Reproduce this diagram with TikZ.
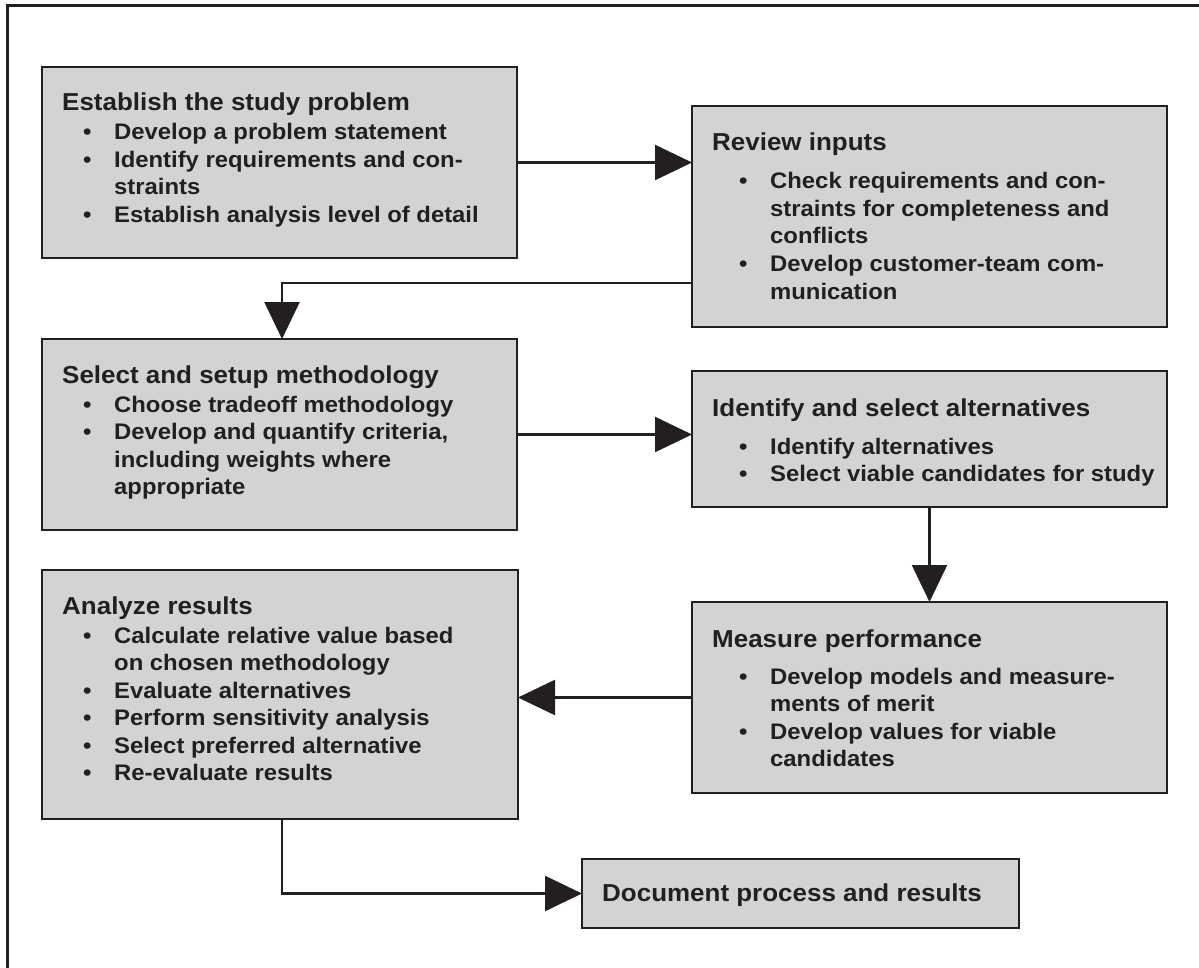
\documentclass[tikz,border=0pt]{standalone}
\usepackage{fontspec}
\setmainfont{Liberation Sans}[FakeStretch=1.06]
\usetikzlibrary{arrows.meta,calc}
\definecolor{ink}{HTML}{231F20}
\definecolor{boxfill}{HTML}{D1D3D4}
\newcommand\bul{\makebox[31pt][l]{\textbullet}}
\begin{document}
\begin{tikzpicture}[x=1pt,y=-1pt,
  box/.style={draw=ink, line width=2.8pt, fill=boxfill, anchor=north west, inner sep=0pt, outer sep=0pt},
  arr/.style={draw=ink, line width=2.4pt, -{Triangle[width=35pt,length=37pt]}},
  ttl/.style={anchor=base west, inner sep=0pt, text=ink, font=\bfseries\fontsize{24.5}{28}\selectfont},
  ln/.style={anchor=base west, inner sep=0pt, text=ink, font=\bfseries\fontsize{22.5}{28}\selectfont},
  frame/.style={draw=ink, line width=3pt}]
\useasboundingbox (0,0) rectangle (1199,968);
\coordinate (f1) at (7,968);
\coordinate (f2) at (7,6);
\coordinate (f3) at (1199,6);
\draw[frame] (f1) -- (f2) -- (f3);

% boxes
\node[box, minimum width=475pt, minimum height=191pt] (b1) at (42,67) {};
\node[box, minimum width=475pt, minimum height=221pt] (b2) at (692,106) {};
\node[box, minimum width=475pt, minimum height=191pt] (b3) at (42,339) {};
\node[box, minimum width=475pt, minimum height=136pt] (b4) at (692,371) {};
\node[box, minimum width=475pt, minimum height=191pt] (b5) at (692,602) {};
\node[box, minimum width=476pt, minimum height=249pt] (b6) at (42,570) {};
\node[box, minimum width=437pt, minimum height=69pt] (b7) at (582,859) {};

% box 1
\node[ttl] (t1) at (62,111) {Establish the study problem};
\node[ln] (l1a) at (83,140) {\bul Develop a problem statement};
\node[ln] (l1b) at (83,167.5) {\bul Identify requirements and con-};
\node[ln] (l1c) at (114,195) {straints};
\node[ln] (l1d) at (83,222.5) {\bul Establish analysis level of detail};

% box 2
\node[ttl] (t2) at (712,151) {Review inputs};
\node[ln] (l2a) at (739,189) {\bul Check requirements and con-};
\node[ln] (l2b) at (770,216.5) {straints for completeness and};
\node[ln] (l2c) at (770,244) {conflicts};
\node[ln] (l2d) at (739,271.5) {\bul Develop customer-team com-};
\node[ln] (l2e) at (770,299) {munication};

% box 3
\node[ttl] (t3) at (62,383) {Select and setup methodology};
\node[ln] (l3a) at (83,412) {\bul Choose tradeoff methodology};
\node[ln] (l3b) at (83,439.5) {\bul Develop and quantify criteria,};
\node[ln] (l3c) at (114,467) {including weights where};
\node[ln] (l3d) at (114,494.5) {appropriate};

% box 4
\node[ttl] (t4) at (712,416) {Identify and select alternatives};
\node[ln] (l4a) at (739,454) {\bul Identify alternatives};
\node[ln] (l4b) at (739,481.5) {\bul Select viable candidates for study};

% box 5
\node[ttl] (t5) at (712,647) {Measure performance};
\node[ln] (l5a) at (739,684) {\bul Develop models and measure-};
\node[ln] (l5b) at (770,711.5) {ments of merit};
\node[ln] (l5c) at (739,739) {\bul Develop values for viable};
\node[ln] (l5d) at (770,766.5) {candidates};

% box 6
\node[ttl] (t6) at (62,614) {Analyze results};
\node[ln] (l6a) at (83,643) {\bul Calculate relative value based};
\node[ln] (l6b) at (114,670.5) {on chosen methodology};
\node[ln] (l6c) at (83,698) {\bul Evaluate alternatives};
\node[ln] (l6d) at (83,725.5) {\bul Perform sensitivity analysis};
\node[ln] (l6e) at (83,753) {\bul Select preferred alternative};
\node[ln] (l6f) at (83,780.5) {\bul Re-evaluate results};

% box 7
\node[ttl] (t7) at (602,901) {Document process and results};

% connectors
\coordinate (c2) at ($(b2.south west)+(0,-44)$);
\coordinate (c3) at ($(b3.north west)+(240,0)$);
\coordinate (c6) at ($(b6.south west)+(240,0)$);
\draw[arr] (b1.east) -- (b1.east -| b2.west);
\draw[arr] (c2) -| (c3);
\draw[arr] (b3.east) -- (b3.east -| b4.west);
\draw[arr] (b4.south) -- (b4.south |- b5.north);
\draw[arr] (b5.west) -- (b5.west -| b6.east);
\draw[arr] (c6) |- (b7.west);
\end{tikzpicture}
\end{document}
